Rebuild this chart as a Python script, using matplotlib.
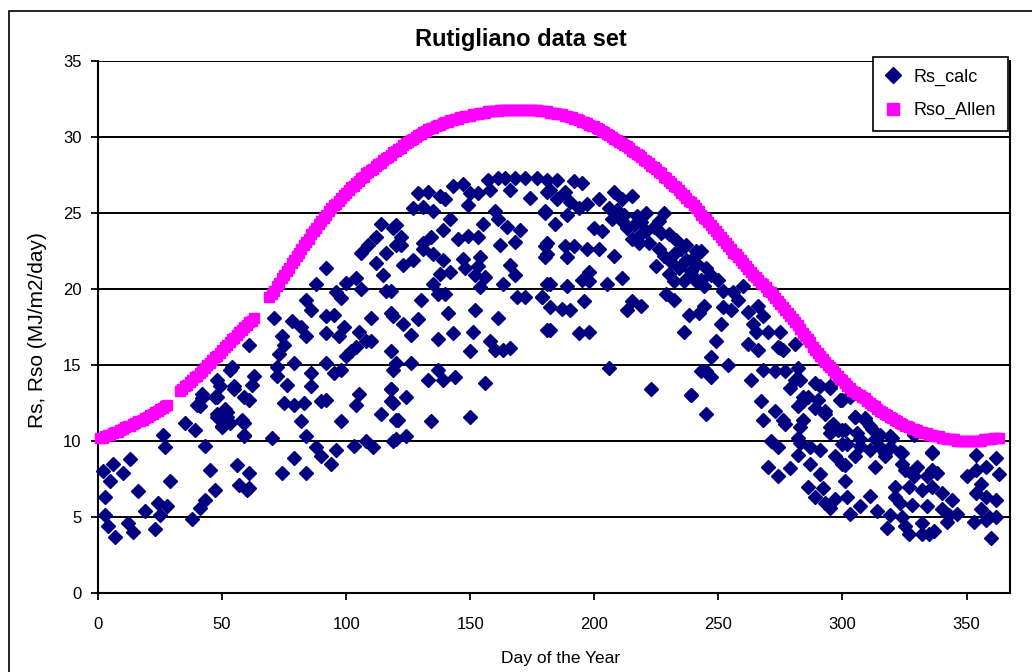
import matplotlib
matplotlib.use("Agg")
import matplotlib.pyplot as plt
from matplotlib.patches import Rectangle

plt.rcParams["font.family"] = ["Liberation Sans", "DejaVu Sans"]

# Rso (Allen) - giorni con dato e valori giornalieri
rso_days = list(range(1, 29)) + list(range(33, 64)) + list(range(69, 364))
rso_vals = [
    # 1-28
    10.2, 10.2, 10.3, 10.4, 10.4, 10.5, 10.6, 10.6, 10.7, 10.8, 10.9, 11.0, 11.0, 11.1,
    11.2, 11.3, 11.3, 11.4, 11.5, 11.6, 11.7, 11.8, 11.9, 12.0, 12.1, 12.2, 12.3, 12.4,
    # 33-63
    13.3, 13.4, 13.6, 13.7, 13.9, 14.0, 14.2, 14.3, 14.5, 14.6, 14.8, 15.0, 15.1, 15.3,
    15.5, 15.6, 15.8, 16.0, 16.2, 16.3, 16.5, 16.7, 16.8, 17.0, 17.2, 17.3, 17.5, 17.6,
    17.8, 17.9, 18.1,
    # 69-363
    19.5, 19.7, 19.9, 20.2, 20.4, 20.7, 20.9, 21.2, 21.4, 21.7, 21.9, 22.2, 22.4, 22.6,
    22.9, 23.1, 23.3, 23.6, 23.8, 24.0, 24.3, 24.5, 24.7, 24.9, 25.1, 25.3, 25.5, 25.6,
    25.8, 26.0, 26.2, 26.3, 26.5, 26.7, 26.8, 27.0, 27.1, 27.3, 27.4, 27.6, 27.7, 27.8,
    27.9, 28.1, 28.2, 28.3, 28.5, 28.6, 28.7, 28.8, 29.0, 29.1, 29.2, 29.3, 29.5, 29.6,
    29.7, 29.8, 29.9, 30.0, 30.1, 30.2, 30.3, 30.4, 30.5, 30.6, 30.6, 30.7, 30.8, 30.8,
    30.9, 31.0, 31.0, 31.1, 31.1, 31.2, 31.2, 31.3, 31.3, 31.4, 31.4, 31.4, 31.5, 31.5,
    31.5, 31.6, 31.6, 31.6, 31.7, 31.7, 31.7, 31.7, 31.7, 31.8, 31.8, 31.8, 31.8, 31.8,
    31.8, 31.8, 31.8, 31.8, 31.8, 31.8, 31.8, 31.8, 31.8, 31.8, 31.8, 31.7, 31.7, 31.7,
    31.7, 31.6, 31.6, 31.6, 31.5, 31.5, 31.5, 31.4, 31.4, 31.3, 31.3, 31.2, 31.2, 31.1,
    31.0, 31.0, 30.9, 30.8, 30.7, 30.7, 30.6, 30.5, 30.4, 30.3, 30.2, 30.1, 30.0, 29.9,
    29.8, 29.7, 29.6, 29.5, 29.4, 29.3, 29.1, 29.0, 28.9, 28.8, 28.7, 28.5, 28.4, 28.3,
    28.1, 28.0, 27.9, 27.7, 27.6, 27.4, 27.3, 27.1, 27.0, 26.8, 26.7, 26.5, 26.3, 26.2,
    26.0, 25.8, 25.7, 25.5, 25.3, 25.1, 24.9, 24.7, 24.6, 24.4, 24.2, 24.0, 23.8, 23.6,
    23.4, 23.2, 23.0, 22.8, 22.6, 22.4, 22.3, 22.1, 21.9, 21.7, 21.5, 21.3, 21.1, 20.9,
    20.8, 20.6, 20.4, 20.3, 20.1, 19.9, 19.8, 19.6, 19.4, 19.2, 19.0, 18.8, 18.6, 18.4,
    18.2, 18.0, 17.8, 17.6, 17.4, 17.1, 16.9, 16.7, 16.5, 16.2, 16.0, 15.8, 15.6, 15.4,
    15.2, 15.0, 14.9, 14.7, 14.5, 14.3, 14.1, 14.0, 13.8, 13.6, 13.5, 13.3, 13.2, 13.1,
    13.0, 12.9, 12.8, 12.6, 12.5, 12.4, 12.3, 12.1, 12.0, 11.9, 11.8, 11.7, 11.6, 11.5,
    11.4, 11.3, 11.2, 11.1, 11.0, 11.0, 10.9, 10.8, 10.8, 10.7, 10.6, 10.6, 10.5, 10.5,
    10.4, 10.4, 10.3, 10.3, 10.3, 10.2, 10.2, 10.1, 10.1, 10.1, 10.1, 10.0, 10.0, 10.0,
    10.0, 10.0, 10.0, 10.0, 10.0, 10.0, 10.0, 10.0, 10.1, 10.1, 10.1, 10.1, 10.2, 10.2,
    10.2,
]

# Rs calcolata - (giorno, valore)
rs_points = [
    (2, 8.0), (6, 8.5), (5, 7.4), (10, 7.9), (13, 8.8), (3, 6.3), (3, 5.1), (4, 4.4),
    (7, 3.7), (12, 4.6), (14, 4.0), (16, 6.7), (19, 5.4), (23, 4.2), (24, 5.9), (25, 5.1),
    (28, 5.7), (26, 10.4), (27, 9.6), (29, 7.4), (35, 11.2), (39, 10.7), (43, 9.7),
    (38, 4.9), (41, 5.6), (43, 6.1), (47, 6.8), (45, 8.1), (56, 8.4), (57, 7.1), (60, 6.8),
    (40, 12.4), (42, 13.1), (48, 14.0), (48, 12.9), (51, 12.1), (52, 11.6), (48, 11.8),
    (55, 13.6), (59, 12.9), (59, 11.2), (59, 10.4), (61, 16.3), (54, 14.9), (50, 11.0),
    (58, 11.4), (53, 14.7), (63, 14.3), (62, 13.7), (49, 13.6), (55, 13.4), (42, 12.8),
    (47, 12.9), (61, 12.7), (41, 12.3), (52, 11.9), (48, 11.6), (58, 11.3), (53, 11.2),
    (50, 10.9), (59, 10.3),
    (61, 7.9), (61, 6.9), (71, 18.1), (74, 16.9), (75, 16.3), (78, 17.9), (82, 17.5),
    (84, 16.9), (73, 15.7), (72, 14.9), (72, 14.3), (79, 15.1), (76, 13.7), (75, 12.5),
    (79, 12.4), (83, 12.5), (82, 11.3), (70, 10.2), (84, 10.3), (88, 9.6), (90, 9.0),
    (94, 8.5), (96, 9.4), (79, 8.9), (74, 7.9), (84, 7.9), (86, 14.5), (86, 13.6),
    (90, 12.6), (92, 12.7), (92, 21.4), (88, 20.3), (84, 19.3), (86, 18.6), (92, 18.2),
    (92, 17.1), (95, 18.3), (96, 19.8), (98, 19.4), (100, 20.4), (104, 20.7), (106, 20.0),
    (99, 17.5), (97, 16.9), (105, 17.2), (110, 18.1), (110, 16.6), (102, 15.9), (104, 16.2),
    (108, 16.6), (100, 15.6), (98, 14.7), (95, 14.5), (92, 15.1), (98, 11.3), (105, 13.1),
    (104, 12.4), (103, 9.7), (108, 10.0), (111, 9.6), (114, 11.8), (118, 13.4), (118, 12.6),
    (119, 10.0), (120, 11.4), (118, 15.9), (119, 14.7), (118, 18.4), (116, 19.9),
    (115, 20.9), (114, 24.3), (112, 23.4), (109, 22.9), (106, 22.4), (112, 21.7),
    (116, 22.4), (119, 24.0), (120, 22.9),
    (129, 26.3), (133, 26.4), (138, 26.1), (140, 25.9), (127, 25.3), (131, 25.4),
    (135, 25.1), (143, 26.8), (147, 26.9), (150, 26.3), (153, 26.3), (149, 25.5),
    (157, 27.2), (161, 27.3), (164, 27.3), (168, 27.3), (172, 27.3), (177, 27.3),
    (158, 26.5), (166, 26.5), (174, 26.0), (181, 26.4), (180, 25.1), (160, 25.1),
    (142, 24.6), (139, 23.9), (134, 23.4), (131, 23.0), (131, 22.6), (120, 24.2),
    (122, 23.4), (122, 22.9), (145, 23.3), (149, 23.5), (153, 23.4), (155, 24.3),
    (161, 24.6), (165, 24.1), (170, 23.9), (168, 23.1), (162, 22.9), (180, 22.8),
    (180, 22.1), (123, 21.6), (127, 21.9), (135, 22.3), (139, 21.9), (138, 21.0),
    (142, 21.1), (147, 22.0), (148, 21.4), (153, 21.5), (154, 22.1), (156, 20.8),
    (154, 20.1), (152, 20.9), (166, 21.6), (168, 20.9), (163, 20.3), (169, 19.5),
    (172, 19.5), (179, 19.5), (181, 20.3), (135, 20.3), (137, 19.7), (140, 19.7),
    (130, 19.3), (118, 19.9), (119, 18.2), (123, 17.7), (126, 17.0), (129, 18.0),
    (141, 18.4), (152, 18.6), (161, 18.1), (151, 17.2), (143, 17.1), (137, 16.7),
    (158, 16.6), (160, 16.0), (163, 16.0), (166, 16.1), (150, 15.9), (181, 17.3),
    (120, 15.1), (126, 15.1), (137, 14.7), (133, 14.0), (139, 14.0), (144, 14.2),
    (156, 13.8), (118, 13.4), (124, 12.9), (119, 12.5), (121, 11.4), (134, 11.3),
    (150, 11.6), (120, 10.1), (124, 10.3),
    (181, 27.2), (185, 27.2), (192, 27.1), (195, 27.0), (182, 26.5), (188, 26.4),
    (185, 25.9), (190, 25.7), (197, 25.6), (202, 25.9), (180, 25.0), (184, 24.3),
    (189, 24.9), (194, 25.3), (208, 26.4), (211, 25.9), (215, 26.1), (206, 25.3),
    (207, 24.6), (211, 24.5), (200, 24.0), (203, 23.8), (213, 24.0), (217, 24.8),
    (221, 25.0), (228, 25.0), (215, 23.3), (218, 23.0), (221, 23.8), (224, 24.1),
    (227, 23.7), (230, 23.6), (233, 23.2), (237, 22.9), (232, 22.3), (237, 21.9),
    (225, 21.5), (230, 21.0), (232, 20.5), (236, 20.5), (241, 20.5), (229, 19.7),
    (232, 19.3), (181, 23.0), (181, 22.3), (188, 22.8), (192, 22.8), (197, 22.6),
    (202, 22.6), (208, 22.2), (189, 22.1), (198, 21.1), (195, 20.6), (198, 20.5),
    (211, 20.7), (205, 20.3), (182, 20.3), (189, 20.2), (179, 19.5), (182, 18.8),
    (187, 18.7), (190, 18.6), (196, 19.2), (215, 19.2), (213, 18.6), (219, 18.9),
    (238, 18.3), (182, 17.3), (194, 17.1), (198, 17.2), (236, 17.2), (206, 14.8),
    (223, 13.4), (239, 13.0), (243, 14.6),
    (209, 25.2), (212, 24.9), (216, 24.2), (219, 24.4), (222, 23.0), (226, 22.6),
    (228, 22.2), (231, 21.8), (234, 21.4), (239, 21.0), (241, 21.6), (244, 20.2),
    (235, 22.6), (240, 22.1), (226, 24.5), (219, 23.6),
    (241, 22.5), (243, 22.5), (241, 21.7), (239, 21.2), (245, 21.4), (247, 20.9),
    (243, 20.6), (250, 20.6), (252, 19.9), (256, 19.8), (260, 20.2), (258, 19.3),
    (252, 18.8), (255, 18.6), (262, 18.5), (266, 18.9), (244, 18.9), (242, 18.4),
    (251, 17.7), (268, 18.2), (264, 17.7), (265, 17.2), (270, 17.2), (275, 17.2),
    (249, 16.6), (262, 16.4), (266, 16.0), (274, 16.2), (276, 16.0), (281, 16.4),
    (247, 15.5), (254, 15.0), (245, 14.6), (247, 14.2), (239, 13.0), (263, 14.0),
    (268, 14.7), (273, 14.6), (277, 14.6), (282, 14.8), (279, 13.5), (283, 14.0),
    (289, 13.8), (295, 13.5), (286, 12.9), (290, 12.7), (284, 12.6), (299, 12.7),
    (267, 12.6), (273, 12.0), (268, 11.4), (277, 11.1), (283, 10.9), (293, 12.0),
    (296, 11.1), (300, 10.7), (302, 9.8), (245, 11.8), (271, 10.0), (274, 9.6),
    (282, 10.2), (287, 9.6), (291, 9.4), (297, 9.0), (282, 9.1), (287, 8.5), (270, 8.3),
    (279, 8.2), (274, 7.7), (291, 7.8), (301, 8.4),
    (286, 7.0), (289, 6.3), (292, 6.9), (295, 5.6), (297, 6.2), (293, 5.9),
    (275, 16.1), (281, 14.0), (284, 12.9), (291, 13.6), (295, 13.6), (289, 12.2),
    (293, 11.8), (303, 13.0), (282, 12.3), (284, 11.4), (295, 10.9), (298, 10.7),
    (305, 11.6), (309, 11.4), (311, 11.0), (315, 10.4), (320, 10.2), (323, 9.3),
    (329, 10.4), (336, 9.3), (276, 11.4), (283, 9.9), (295, 10.5), (300, 9.8),
    (307, 10.1), (311, 9.4), (317, 9.2), (319, 9.6),
    (300, 12.7), (303, 12.9), (305, 11.6), (309, 11.5), (312, 10.8), (306, 10.5),
    (301, 10.7), (307, 9.7), (305, 9.0), (313, 10.1), (315, 9.6), (319, 10.3),
    (317, 9.0), (313, 8.3), (300, 8.5), (301, 7.4), (302, 6.3), (303, 5.2), (307, 5.7),
    (311, 6.4), (314, 5.4), (319, 5.1), (318, 4.3), (321, 7.0), (321, 6.3), (324, 9.2),
    (324, 8.5), (325, 8.1), (330, 8.3), (329, 7.7), (334, 7.7), (336, 9.2), (336, 8.1),
    (338, 7.9), (327, 7.0), (332, 6.8), (336, 7.0), (340, 6.6), (323, 5.9), (328, 5.8),
    (334, 5.7), (340, 5.5), (344, 6.1), (346, 5.2), (324, 5.0), (325, 4.4), (327, 3.9),
    (332, 4.6), (332, 3.9), (335, 3.9), (337, 4.1), (343, 5.1), (342, 4.7), (354, 9.1),
    (350, 7.7), (354, 8.1), (358, 8.3), (362, 8.9), (363, 7.8), (356, 7.2), (354, 6.6),
    (358, 6.3), (362, 6.1), (356, 5.5), (353, 4.7), (359, 5.0), (362, 5.0), (360, 3.6),
    (358, 4.8),
]
rs_days = [d for d, v in rs_points]
rs_vals = [v for d, v in rs_points]

y_ticks = [0, 5, 10, 15, 20, 25, 30, 35]
x_ticks = [0, 50, 100, 150, 200, 250, 300, 350]

W, H = 1032, 672
fig = plt.figure(figsize=(W / 100, H / 100), dpi=100)

# cornice dell'area del grafico
fig.patches.append(Rectangle((9 / W, -0.05), 1.2, 1.05 - 11 / H,
                             transform=fig.transFigure, fill=False,
                             edgecolor="black", linewidth=1.2))

ax = fig.add_axes([98 / W, 1 - 593 / H, (1010 - 98) / W, (593 - 61) / H])

for y in y_ticks[1:]:
    ax.axhline(y, color="black", linewidth=1.4, zorder=1)

ax.plot(rs_days, rs_vals, linestyle="none", marker="D", markersize=7.0,
        color="#000080", markeredgecolor="#000080", label="Rs_calc",
        clip_on=False, zorder=3)
ax.plot(rso_days, rso_vals, linestyle="none", marker="s", markersize=7.2,
        color="#FF00FF", markeredgecolor="#FF00FF", label="Rso_Allen",
        clip_on=False, zorder=4)

ax.set_xlim(0, 367.5)
ax.set_ylim(0, 35)
ax.set_xticks(x_ticks)
ax.set_yticks(y_ticks)
ax.tick_params(direction="out", length=5, width=1.3, labelsize=12)
ax.tick_params(axis="x", pad=12.5)
ax.tick_params(axis="y", pad=7)
for s in ["left", "bottom", "right"]:
    ax.spines[s].set_linewidth(1.5)
ax.spines["top"].set_visible(False)

# titolo ed etichette centrati sul riquadro del grafico
fig.text(521 / W, 1 - 46 / H, "Rutigliano data set", fontsize=17,
         fontweight="bold", ha="center", va="baseline")
fig.text(561 / W, 1 - 659 / H, "Day of the Year", fontsize=12.5,
         ha="center", va="center")
fig.text(38 / W, 1 - 330 / H, "Rs, Rso (MJ/m2/day)", fontsize=15,
         rotation=90, ha="center", va="center")

leg = ax.legend(loc="upper right", bbox_to_anchor=(1008 / W, 1 - 57 / H),
                bbox_transform=fig.transFigure, fontsize=13, frameon=True,
                fancybox=False, framealpha=1, borderpad=0.65, labelspacing=0.9,
                handletextpad=0.7, handlelength=0.9, borderaxespad=0,
                markerscale=1.15)
leg.get_frame().set_edgecolor("black")
leg.get_frame().set_linewidth(1.2)

fig.savefig("out.png", dpi=100)
